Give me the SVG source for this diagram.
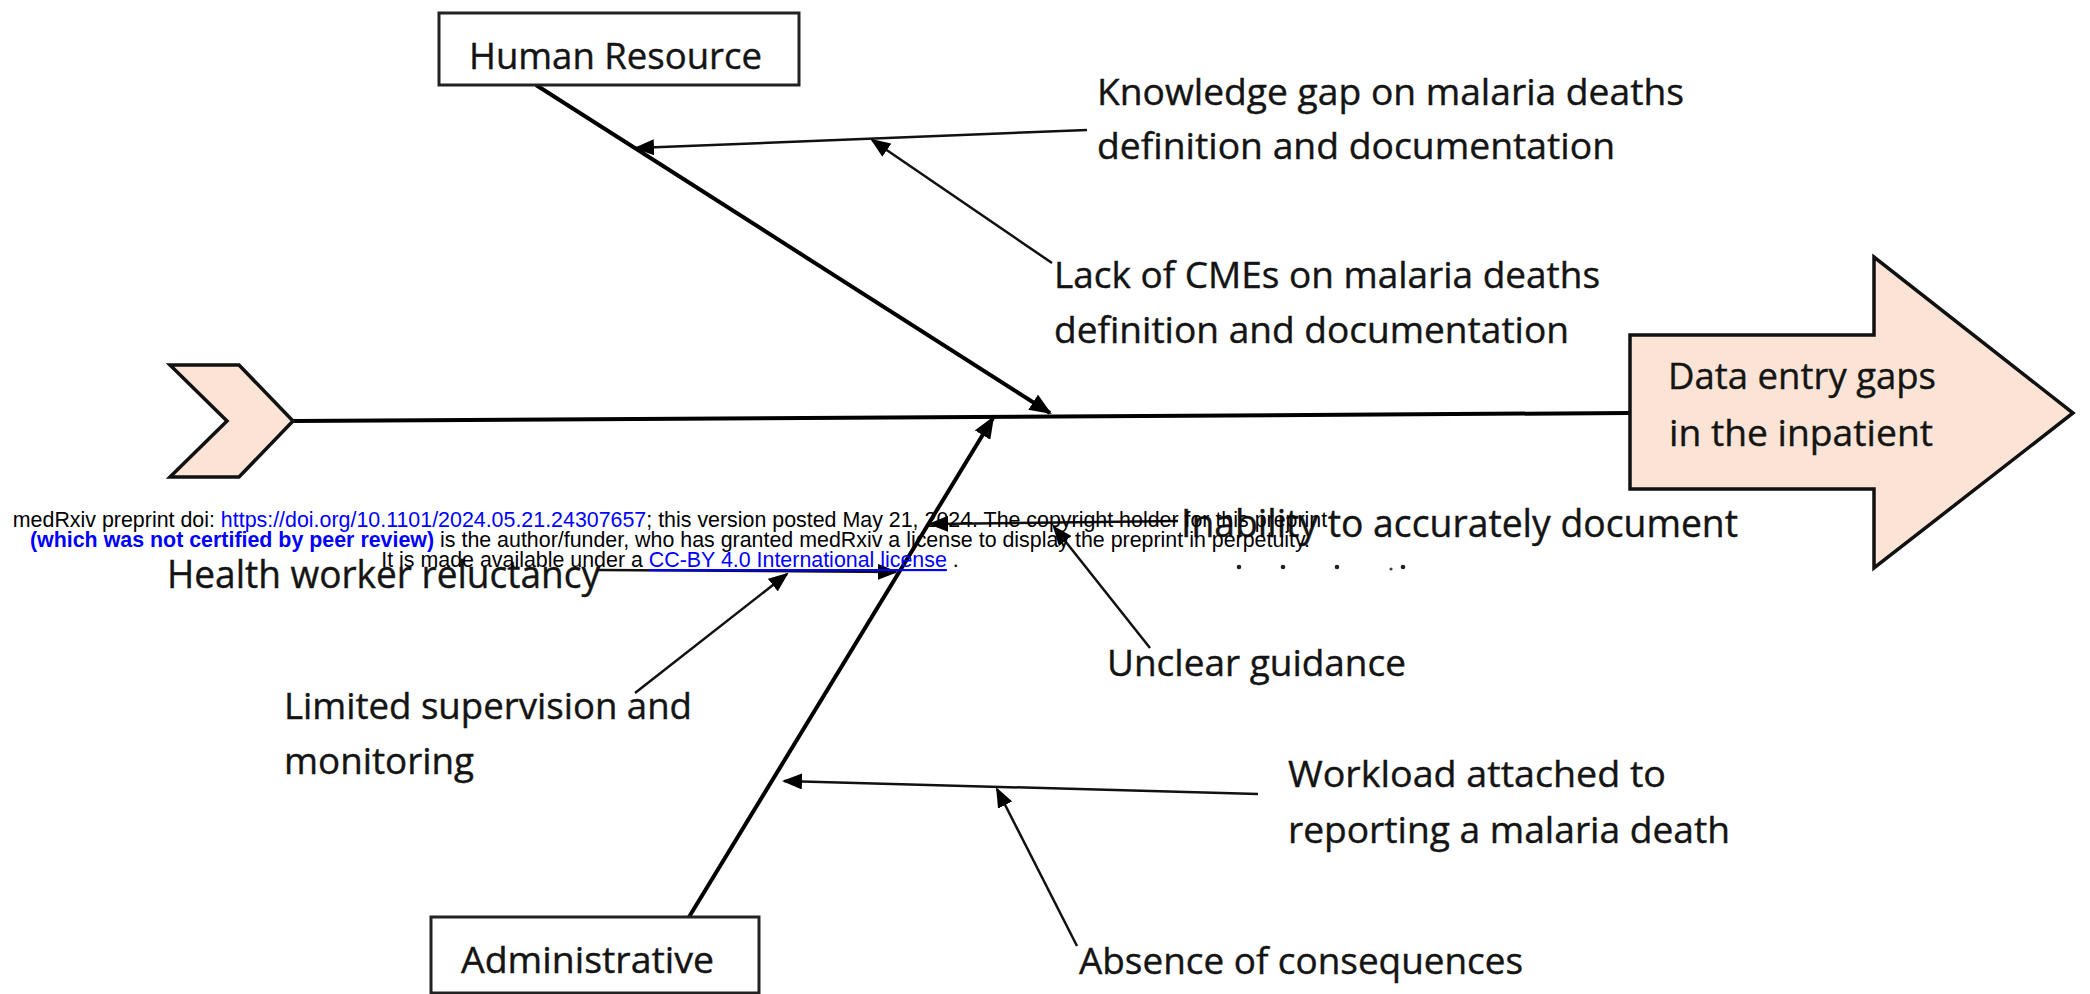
<svg xmlns="http://www.w3.org/2000/svg" width="2090" height="994" viewBox="0 0 2090 994">
<defs>
<style>
.lbl{font-family:"Open Sans","Liberation Sans",sans-serif;font-size:36px;fill:#141414;stroke:#141414;stroke-width:0.4}
.big{font-size:39px}
.box{fill:#ffffff;stroke:#222;stroke-width:3}
.shape{fill:#FBE4D5;stroke:#111;stroke-width:3.5;stroke-linejoin:miter}
.bone{stroke:#000;stroke-width:4;fill:none}
.sub{stroke:#111;stroke-width:2.5;fill:none}
.wm{font-family:"Liberation Sans",Arial,sans-serif;font-size:21.4px;fill:#000}
.blue{fill:#0000ff}
</style>
<marker id="ahB" markerUnits="userSpaceOnUse" markerWidth="22" markerHeight="18" refX="20" refY="9" orient="auto" viewBox="0 0 22 18">
<path d="M0,0 L22,9 L0,18 z" fill="#000"/>
</marker>
<marker id="ahS" markerUnits="userSpaceOnUse" markerWidth="20" markerHeight="16" refX="18" refY="8" orient="auto" viewBox="0 0 20 16">
<path d="M0,0 L20,8 L0,16 z" fill="#000"/>
</marker>
</defs>
<rect width="2090" height="994" fill="#fff"/>

<g id="connectors">
<line class="bone" x1="293" y1="421" x2="1630" y2="413"/>
<line class="bone" x1="536" y1="85" x2="1050" y2="413" marker-end="url(#ahB)"/>
<line class="bone" x1="689" y1="917" x2="993" y2="418" marker-end="url(#ahB)"/>
<line class="sub" x1="1087" y1="130" x2="636" y2="148" marker-end="url(#ahS)"/>
<line class="sub" x1="1052" y1="263" x2="872" y2="140" marker-end="url(#ahS)"/>
<line class="sub" x1="598" y1="570" x2="896" y2="572" marker-end="url(#ahS)"/>
<line class="sub" x1="635" y1="693" x2="787" y2="574" marker-end="url(#ahS)"/>
<line class="sub" x1="1178" y1="521" x2="930" y2="524" marker-end="url(#ahS)"/>
<line class="sub" x1="1150" y1="648" x2="1054" y2="527" marker-end="url(#ahS)"/>
<line class="sub" x1="1258" y1="794" x2="784" y2="781" marker-end="url(#ahS)"/>
<line class="sub" x1="1077" y1="946" x2="997" y2="789" marker-end="url(#ahS)"/>
</g>

<g id="tail">
<polygon class="shape" points="170,365 239,365 293,421 239,477 170,477 227,421"/>
</g>

<g id="effect">
<polygon class="shape" points="1630,335 1874,335 1874,257 2073,413 1874,568 1874,489 1630,489"/>
<text class="lbl" x="1668" y="389" textLength="268" lengthAdjust="spacingAndGlyphs">Data entry gaps</text>
<text class="lbl" x="1669" y="446" textLength="264" lengthAdjust="spacingAndGlyphs">in the inpatient</text>
</g>

<g id="human-resource">
<rect class="box" x="439" y="13" width="360" height="72"/>
<text class="lbl" x="469" y="69" textLength="293" lengthAdjust="spacingAndGlyphs">Human Resource</text>
</g>

<g id="administrative">
<rect class="box" x="431" y="917" width="328" height="76"/>
<text class="lbl" x="461" y="973" textLength="253" lengthAdjust="spacingAndGlyphs">Administrative</text>
</g>

<g id="knowledge-gap">
<text class="lbl" x="1097" y="105" textLength="587" lengthAdjust="spacingAndGlyphs">Knowledge gap on malaria deaths</text>
<text class="lbl" x="1097" y="159" textLength="518" lengthAdjust="spacingAndGlyphs">definition and documentation</text>
</g>

<g id="lack-of-cmes">
<text class="lbl" x="1054" y="288" textLength="546" lengthAdjust="spacingAndGlyphs">Lack of CMEs on malaria deaths</text>
<text class="lbl" x="1054" y="343" textLength="515" lengthAdjust="spacingAndGlyphs">definition and documentation</text>
</g>

<g id="inability">
<text class="lbl big" x="1181" y="537" textLength="557" lengthAdjust="spacingAndGlyphs">Inability to accurately document</text>
<circle cx="1239" cy="567" r="2.3" fill="#222"/>
<circle cx="1283" cy="567" r="2.3" fill="#222"/>
<circle cx="1337" cy="567" r="2.3" fill="#222"/>
<circle cx="1391" cy="569" r="1.6" fill="#444"/>
<circle cx="1403" cy="567" r="2.3" fill="#222"/>
</g>

<g id="health-worker">
<text class="lbl big" x="167" y="588" textLength="433" lengthAdjust="spacingAndGlyphs">Health worker reluctancy</text>
</g>

<g id="unclear-guidance">
<text class="lbl" x="1107" y="676" textLength="299" lengthAdjust="spacingAndGlyphs">Unclear guidance</text>
</g>

<g id="limited-supervision">
<text class="lbl" x="284" y="719" textLength="408" lengthAdjust="spacingAndGlyphs">Limited supervision and</text>
<text class="lbl" x="284" y="774" textLength="190" lengthAdjust="spacingAndGlyphs">monitoring</text>
</g>

<g id="workload">
<text class="lbl" x="1288" y="787" textLength="378" lengthAdjust="spacingAndGlyphs">Workload attached to</text>
<text class="lbl" x="1288" y="843" textLength="442" lengthAdjust="spacingAndGlyphs">reporting a malaria death</text>
</g>

<g id="absence">
<text class="lbl" x="1079" y="974" textLength="444" lengthAdjust="spacingAndGlyphs">Absence of consequences</text>
</g>

<g id="watermark">
<text class="wm" x="670" y="527" text-anchor="middle">medRxiv preprint doi: <tspan class="blue">https://doi.org/10.1101/2024.05.21.24307657</tspan>; this version posted May 21, 2024. The copyright holder for this preprint</text>
<text class="wm" x="670" y="547" text-anchor="middle"><tspan class="blue" font-weight="bold">(which was not certified by peer review)</tspan> is the author/funder, who has granted medRxiv a license to display the preprint in perpetuity.</text>
<text class="wm" x="670" y="567" text-anchor="middle">It is made available under a <tspan class="blue" text-decoration="underline">CC-BY 4.0 International license</tspan> .</text>
</g>
</svg>
